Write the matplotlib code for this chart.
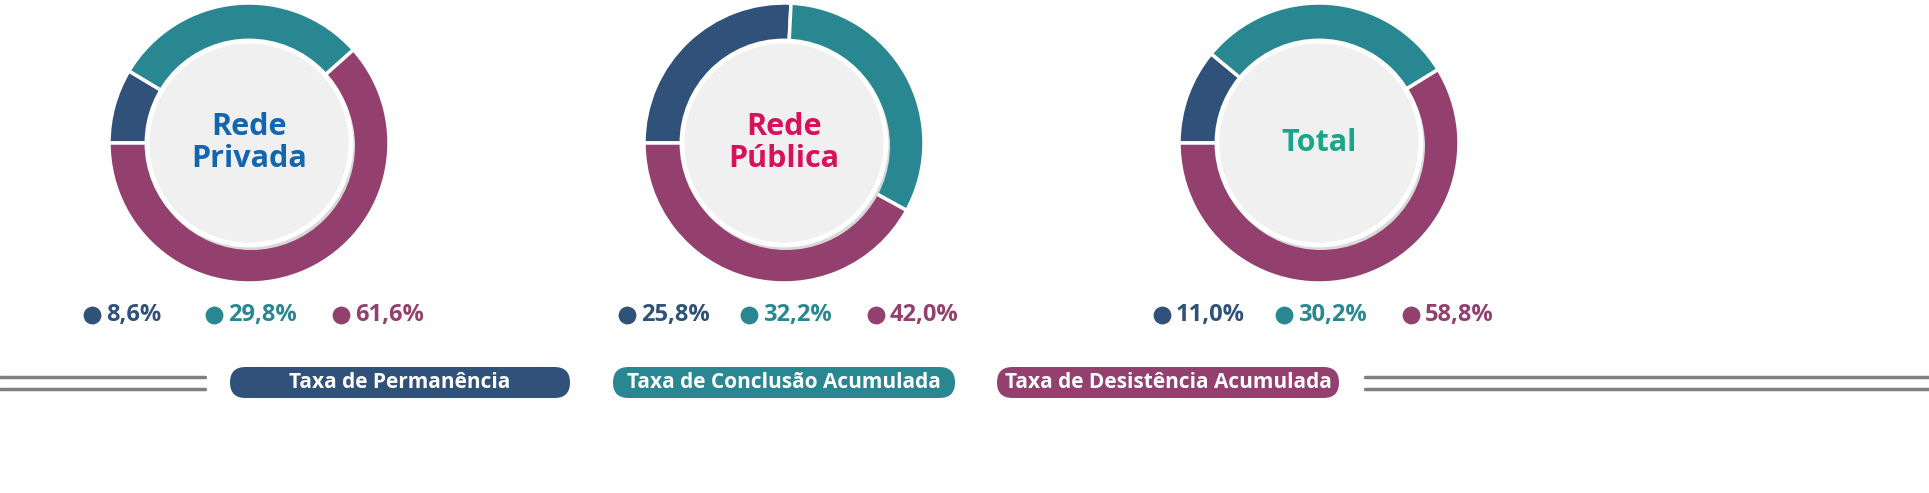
import matplotlib
matplotlib.use('Agg')
import matplotlib.pyplot as plt
from matplotlib.patches import Circle, FancyBboxPatch

H = 493
groups = ['Rede\nPrivada', 'Rede\nPública', 'Total']
group_colors = ['#1266b0', '#d7125b', '#1aa58b']
permanencia = [8.6, 25.8, 11.0]
conclusao = [29.8, 32.2, 30.2]
desistencia = [61.6, 42.0, 58.8]
series = ['Taxa de Permanência', 'Taxa de Conclusão Acumulada', 'Taxa de Desistência Acumulada']
colors = ['#30527a', '#298791', '#93406e']

centers_x = [249, 784, 1319]
cy = H - 143

fig = plt.figure(figsize=(19.29, 4.93), dpi=100)
ax = fig.add_axes([0, 0, 1, 1])
ax.axis('off')

def fmt(v):
    return f'{v:.1f}%'.replace('.', ',')

for i, cx in enumerate(centers_x):
    vals = [permanencia[i], conclusao[i], desistencia[i]]
    ax.pie(vals, center=(cx, cy), radius=140, startangle=180, counterclock=False,
           colors=colors, wedgeprops=dict(width=40, edgecolor='white', linewidth=2.5))
    ax.add_patch(Circle((cx + 2, cy - 3), 104, facecolor='#d8d8d8', edgecolor='none', zorder=3))
    ax.add_patch(Circle((cx, cy), 102, facecolor='#f0f0f0', edgecolor='white', linewidth=3.5, zorder=4))
    ax.text(cx, cy, groups[i], ha='center', va='center', fontsize=22, fontweight='bold',
            color=group_colors[i], family='Open Sans', linespacing=1.05, zorder=5)
    # value labels
    ly = H - 315
    offsets = [-157, -35, 92]
    for j, off in enumerate(offsets):
        x0 = cx + off
        ax.scatter([x0], [ly], s=140, color=colors[j], zorder=5)
        ax.text(x0 + 14, ly, fmt(vals[j]), ha='left', va='center', fontsize=17,
                fontweight='bold', color=colors[j], family='Open Sans')

# legend pills
pills = [(215, 585), (598, 970), (982, 1354)]
py = H - 398
for (x0, x1), lab, c in zip(pills, series, colors):
    ax.add_patch(FancyBboxPatch((x0 + 15, py), x1 - x0 - 30, 31,
                                boxstyle='round,pad=0,rounding_size=15.5',
                                mutation_aspect=1, facecolor=c, edgecolor='none'))
    ax.text((x0 + x1) / 2, py + 15.5, lab, ha='center', va='center', fontsize=15,
            fontweight='bold', color='white', family='Open Sans')

for y in (H - 377, H - 389):
    ax.plot([0, 205], [y, y], color='#7f7f7f', lw=2.5, solid_capstyle='round')
    ax.plot([1365, 1929], [y, y], color='#7f7f7f', lw=2.5, solid_capstyle='round')

ax.set_aspect('auto')
ax.set_xlim(0, 1929)
ax.set_ylim(0, H)
ax.set_position([0, 0, 1, 1])

fig.savefig('out.png', dpi=100, facecolor='white')
